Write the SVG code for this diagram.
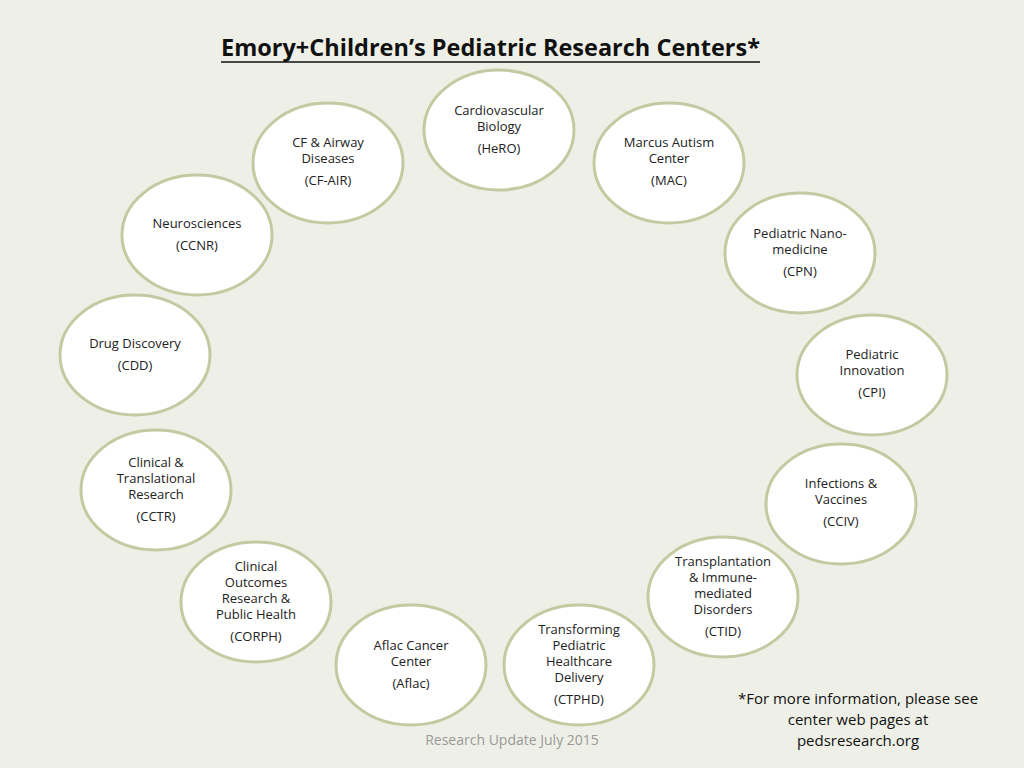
<svg xmlns="http://www.w3.org/2000/svg" width="1024" height="768" viewBox="0 0 1024 768">
<style>
.n ellipse{fill:#fff;stroke:#c5c9a2;stroke-width:3}
.n text{font-family:"Open Sans","Liberation Sans",sans-serif;font-size:13px;fill:#222;text-anchor:middle}
.t{font-family:"Open Sans","Liberation Sans",sans-serif;text-anchor:middle}
</style>
<rect width="1024" height="768" fill="#eef0e7"/>
<text class="t" x="490.5" y="56" font-size="23" font-weight="bold" fill="#111" textLength="539" lengthAdjust="spacingAndGlyphs">Emory+Children’s Pediatric Research Centers*</text>
<line x1="221" y1="62" x2="760" y2="62" stroke="#111" stroke-width="1.5"/>
<g class="n" id="hero"><ellipse cx="499" cy="130" rx="75" ry="60"/><text x="499" y="115">Cardiovascular</text><text x="499" y="131">Biology</text><text x="499" y="153">(HeRO)</text></g>
<g class="n" id="cfair"><ellipse cx="328" cy="163" rx="75" ry="60"/><text x="328" y="147">CF &amp; Airway</text><text x="328" y="163">Diseases</text><text x="328" y="185">(CF-AIR)</text></g>
<g class="n" id="mac"><ellipse cx="669" cy="163" rx="75" ry="60"/><text x="669" y="147">Marcus Autism</text><text x="669" y="163">Center</text><text x="669" y="185">(MAC)</text></g>
<g class="n" id="ccnr"><ellipse cx="197" cy="235" rx="75" ry="60"/><text x="197" y="228">Neurosciences</text><text x="197" y="250">(CCNR)</text></g>
<g class="n" id="cpn"><ellipse cx="800" cy="253" rx="75" ry="60"/><text x="800" y="238">Pediatric Nano-</text><text x="800" y="254">medicine</text><text x="800" y="276">(CPN)</text></g>
<g class="n" id="cdd"><ellipse cx="135" cy="355" rx="75" ry="60"/><text x="135" y="348">Drug Discovery</text><text x="135" y="370">(CDD)</text></g>
<g class="n" id="cpi"><ellipse cx="872" cy="375" rx="75" ry="60"/><text x="872" y="359">Pediatric</text><text x="872" y="375">Innovation</text><text x="872" y="397">(CPI)</text></g>
<g class="n" id="cctr"><ellipse cx="156" cy="490" rx="75" ry="60"/><text x="156" y="467">Clinical &amp;</text><text x="156" y="483">Translational</text><text x="156" y="499">Research</text><text x="156" y="521">(CCTR)</text></g>
<g class="n" id="cciv"><ellipse cx="841" cy="504" rx="75" ry="60"/><text x="841" y="488">Infections &amp;</text><text x="841" y="504">Vaccines</text><text x="841" y="526">(CCIV)</text></g>
<g class="n" id="corph"><ellipse cx="256" cy="602" rx="75" ry="60"/><text x="256" y="571">Clinical</text><text x="256" y="587">Outcomes</text><text x="256" y="603">Research &amp;</text><text x="256" y="619">Public Health</text><text x="256" y="641">(CORPH)</text></g>
<g class="n" id="ctid"><ellipse cx="723" cy="597" rx="75" ry="60"/><text x="723" y="566">Transplantation</text><text x="723" y="582">&amp; Immune-</text><text x="723" y="598">mediated</text><text x="723" y="614">Disorders</text><text x="723" y="636">(CTID)</text></g>
<g class="n" id="aflac"><ellipse cx="411" cy="665" rx="75" ry="60"/><text x="411" y="650">Aflac Cancer</text><text x="411" y="666">Center</text><text x="411" y="688">(Aflac)</text></g>
<g class="n" id="ctphd"><ellipse cx="579" cy="665" rx="75" ry="60"/><text x="579" y="634">Transforming</text><text x="579" y="650">Pediatric</text><text x="579" y="666">Healthcare</text><text x="579" y="682">Delivery</text><text x="579" y="704">(CTPHD)</text></g>
<g id="connectors"/>
<text class="t" x="512" y="745" font-size="14" fill="#999">Research Update July 2015</text>
<g class="t" font-size="15" fill="#111"><text x="858" y="704">*For more information, please see</text><text x="858" y="725">center web pages at</text><text x="858" y="746">pedsresearch.org</text></g>
</svg>
